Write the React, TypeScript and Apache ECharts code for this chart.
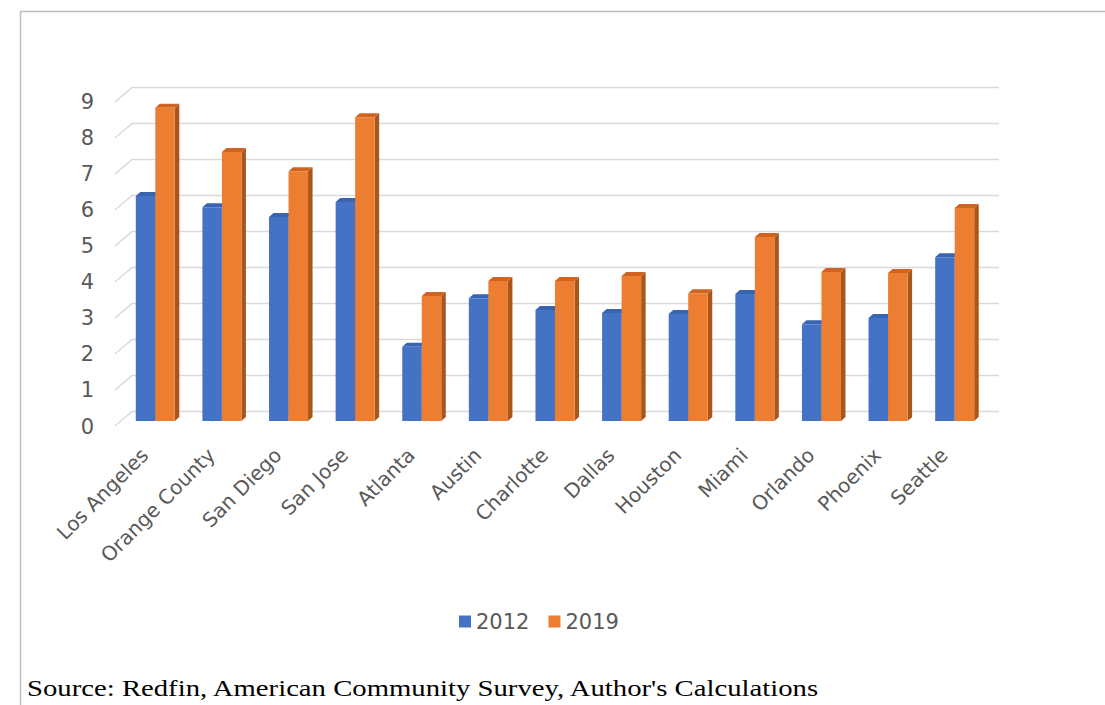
import React, { useEffect, useRef } from "react";
import * as echarts from "echarts";

// Metro areas along the x axis
const CATEGORIES = [
  "Los Angeles",
  "Orange County",
  "San Diego",
  "San Jose",
  "Atlanta",
  "Austin",
  "Charlotte",
  "Dallas",
  "Houston",
  "Miami",
  "Orlando",
  "Phoenix",
  "Seattle",
];

// Ratio values per metro for each year
const VALUES_2012 = [6.25, 5.94, 5.67, 6.08, 2.06, 3.41, 3.08, 3.0, 2.97, 3.53, 2.69, 2.86, 4.55];
const VALUES_2019 = [8.7, 7.47, 6.94, 8.44, 3.47, 3.89, 3.89, 4.03, 3.55, 5.11, 4.14, 4.11, 5.92];

// Value-axis tick labels / back-wall gridlines
const Y_TICKS = [0, 1, 2, 3, 4, 5, 6, 7, 8, 9];

const SERIES_NAMES = ["2012", "2019"];
const SOURCE_NOTE = "Source: Redfin, American Community Survey, Author's Calculations";

const BLUE = { front: "#4472C4", top: "#3A63B0", side: "#2F5597" };
const ORANGE = { front: "#ED7D31", top: "#CF6422", side: "#A9561C" };

const TEXT_GRAY = "#595959";
const FONT = "'DejaVu Sans', 'Noto Sans', sans-serif";

// 3D column: front face, right side face and top face
function makeBarRenderer(slot: number, palette: { front: string; top: string; side: string }) {
  return (params: any, api: any) => {
    const cat = api.value(0);
    const val = api.value(1);
    const top = api.coord([cat, val]);
    const base = api.coord([cat, 0]);
    const band = api.size([1, 0])[0];
    const w = band * 0.293;
    const dx = 4.5;
    const dy = 4;
    const x0 = top[0] + slot * w;
    const x1 = x0 + w;
    return {
      type: "group",
      children: [
        {
          type: "polygon",
          shape: {
            points: [
              [x1, top[1]],
              [x1 + dx, top[1] - dy],
              [x1 + dx, base[1] - dy],
              [x1, base[1]],
            ],
          },
          style: { fill: palette.side },
        },
        {
          type: "polygon",
          shape: {
            points: [
              [x0, top[1]],
              [x0 + dx, top[1] - dy],
              [x1 + dx, top[1] - dy],
              [x1, top[1]],
            ],
          },
          style: { fill: palette.top },
        },
        {
          type: "rect",
          shape: { x: x0, y: top[1], width: w, height: base[1] - top[1] },
          style: { fill: palette.front },
        },
      ],
    };
  };
}

// Floor-to-wall gridlines: short slanted segment then a horizontal line on the back wall
function renderWallLine(params: any, api: any) {
  const v = api.value(0);
  const p = api.coord([0, v]);
  const cs = params.coordSys;
  const y = p[1];
  return {
    type: "polyline",
    shape: {
      points: [
        [cs.x - 7, y + 5],
        [cs.x + 10, y - 9.5],
        [cs.x + cs.width + 11, y - 9.5],
      ],
    },
    style: { stroke: "#D9D9D9", lineWidth: 1.6, fill: "none" },
    silent: true,
  };
}

export default function App() {
  const ref = useRef<HTMLDivElement>(null);

  useEffect(() => {
    if (!ref.current) return;
    const chart = echarts.init(ref.current, undefined, { renderer: "svg" });

    chart.setOption({
      animation: false,
      backgroundColor: "#FFFFFF",
      grid: [
        // plane of the columns
        { left: 122, right: 117, top: 97, bottom: 284 },
        // front edge of the floor, where the value labels sit
        { left: 122, right: 117, top: 102, bottom: 278.5 },
      ],
      xAxis: [
        {
          type: "category",
          gridIndex: 0,
          data: CATEGORIES,
          axisLine: { show: false },
          axisTick: { show: false },
          splitLine: { show: false },
          axisLabel: {
            interval: 0,
            rotate: 45,
            margin: 20,
            padding: [0, 15, 0, 0],
            color: TEXT_GRAY,
            fontSize: 20,
            fontFamily: FONT,
          },
        },
        {
          type: "category",
          gridIndex: 1,
          data: CATEGORIES,
          show: false,
        },
      ],
      yAxis: [
        {
          type: "value",
          gridIndex: 0,
          min: 0,
          max: 9,
          interval: 1,
          axisLine: { show: false },
          axisTick: { show: false },
          splitLine: { show: false },
          axisLabel: { show: false },
        },
        {
          type: "value",
          gridIndex: 1,
          min: 0,
          max: 9,
          interval: 1,
          axisLine: { show: false },
          axisTick: { show: false },
          splitLine: { show: false },
          axisLabel: {
            margin: 28,
            color: TEXT_GRAY,
            fontSize: 21,
            fontFamily: FONT,
          },
        },
      ],
      legend: {
        data: SERIES_NAMES,
        left: 454,
        top: 606,
        icon: "rect",
        itemWidth: 12,
        itemHeight: 12,
        itemGap: 19,
        textStyle: { color: TEXT_GRAY, fontSize: 21, fontFamily: FONT },
      },
      series: [
        {
          type: "custom",
          name: "wall",
          xAxisIndex: 0,
          yAxisIndex: 0,
          data: Y_TICKS.map((t) => [t]),
          renderItem: renderWallLine,
          z: 1,
          silent: true,
        },
        {
          type: "custom",
          name: SERIES_NAMES[0],
          xAxisIndex: 0,
          yAxisIndex: 0,
          data: VALUES_2012.map((v, i) => [i, v]),
          itemStyle: { color: BLUE.front },
          renderItem: makeBarRenderer(-1, BLUE),
          z: 2,
        },
        {
          type: "custom",
          name: SERIES_NAMES[1],
          xAxisIndex: 0,
          yAxisIndex: 0,
          data: VALUES_2019.map((v, i) => [i, v]),
          itemStyle: { color: ORANGE.front },
          renderItem: makeBarRenderer(0, ORANGE),
          z: 3,
        },
      ],
      graphic: [
        {
          type: "line",
          shape: { x1: 20, y1: 11.5, x2: 1105, y2: 11.5 },
          style: { stroke: "#BFBFBF", lineWidth: 1.5 },
          silent: true,
        },
        {
          type: "line",
          shape: { x1: 20.5, y1: 11, x2: 20.5, y2: 705 },
          style: { stroke: "#BFBFBF", lineWidth: 1.5 },
          silent: true,
        },
        {
          type: "text",
          x: 27,
          y: 688,
          scaleX: 1.197,
          style: {
            text: SOURCE_NOTE,
            fill: "#000000",
            fontSize: 24,
            fontFamily: "'Liberation Serif', 'Times New Roman', serif",
            verticalAlign: "middle",
          },
          silent: true,
        },
      ],
    });

    return () => chart.dispose();
  }, []);

  return (
    <div
      ref={ref}
      style={{ position: "absolute", left: 0, top: 0, width: 1105, height: 705 }}
    />
  );
}
